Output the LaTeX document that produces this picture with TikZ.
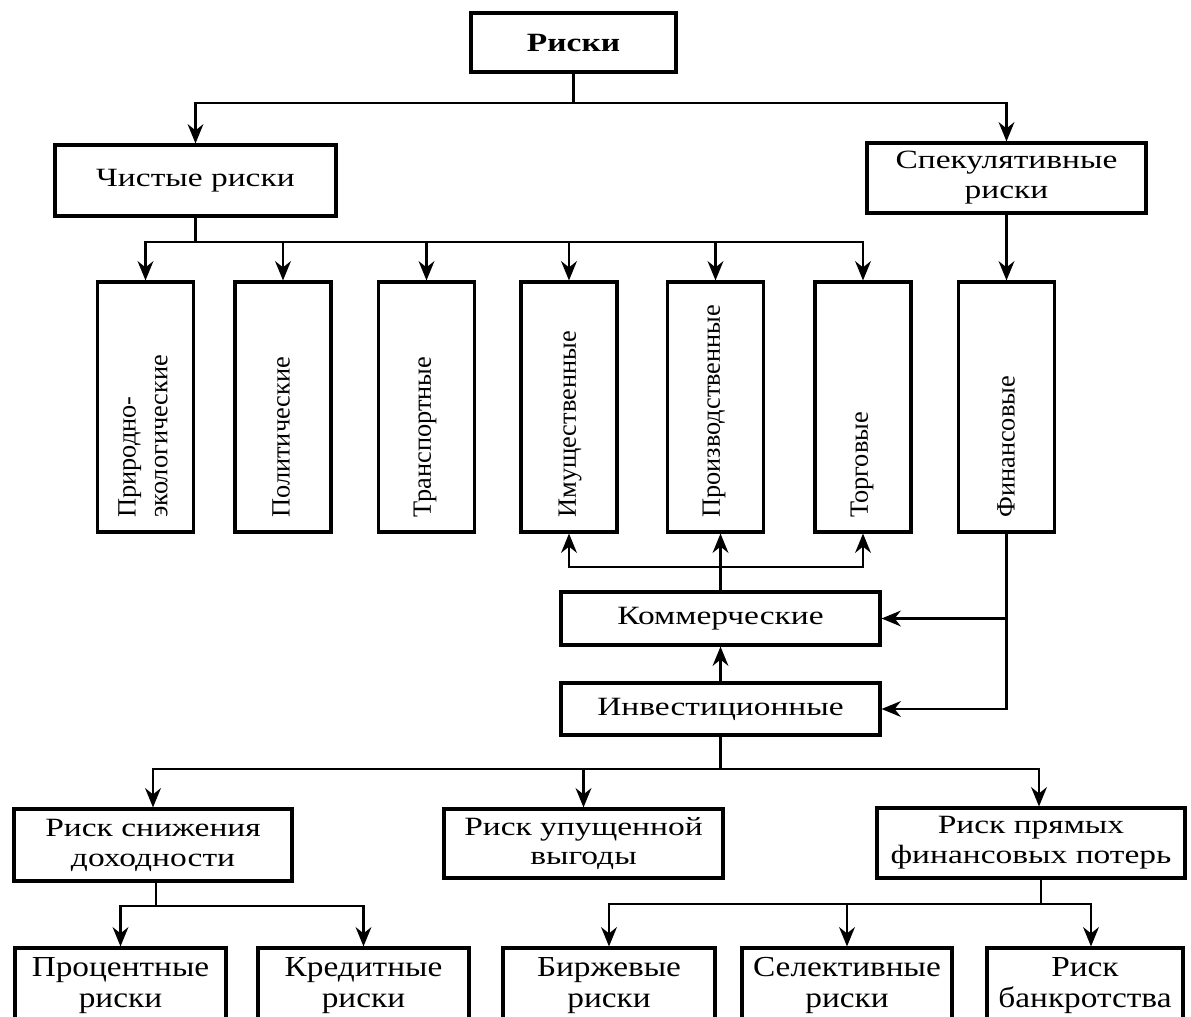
\documentclass[tikz,border=0pt]{standalone}
\usepackage{fontspec}
\setmainfont{Liberation Serif}
\newfontfamily\fa[FakeStretch=1.27]{Liberation Serif}
\newfontfamily\fb[FakeStretch=1.15]{Liberation Serif}
\usetikzlibrary{arrows.meta}
\begin{document}
\begin{tikzpicture}[x=0.02cm,y=-0.02cm,
  box/.style={draw, line width=1.8pt, inner sep=0pt, align=center},
  mid/.style={box, font=\fa\fontsize{15}{17}\selectfont},
  low/.style={box, font=\fb\fontsize{16.5}{18}\selectfont, minimum height=1.5cm},
  vbox/.style={draw, line width=1.8pt, minimum width=1.92cm, minimum height=5cm, inner sep=0pt},
  vtxt/.style={rotate=90, anchor=west, inner sep=0pt, align=left, font=\fontsize{15}{18}\selectfont},
  conn/.style={line width=1.2pt},
  arr/.style={conn, -{Stealth[length=11pt,width=9pt]}}]
\useasboundingbox (0,0) rectangle (1191,1017);
\clip (0,0) rectangle (1191,1017);

% nodes
\node[box, minimum width=4.1cm, minimum height=1.18cm, font=\fa\bfseries\fontsize{15}{17}\selectfont] (risks) at (573.5,42.5) {Риски};
\node[mid, minimum width=5.62cm, minimum height=1.42cm] (pure) at (195.5,180.5) {Чистые риски};
\node[mid, minimum width=5.58cm, minimum height=1.4cm] (spec) at (1006.5,178) {Спекулятивные\\риски};

\node[vbox] (v1) at (145.5,407) {};
\node[vbox] (v2) at (283,407) {};
\node[vbox] (v3) at (426.5,407) {};
\node[vbox] (v4) at (569,407) {};
\node[vbox] (v5) at (715.5,407) {};
\node[vbox] (v6) at (863,407) {};
\node[vbox] (v7) at (1006.5,407) {};

\node[vtxt] (t1) at (143,518) {Природно-\\экологические};
\node[vtxt] (t2) at (281,518) {Политические};
\node[vtxt] (t3) at (425,518) {Транспортные};
\node[vtxt] (t4) at (570,518) {Имущественные};
\node[vtxt] (t5) at (714,518) {Производственные};
\node[vtxt] (t6) at (862,518) {Торговые};
\node[vtxt] (t7) at (1006,518) {Финансовые};

\node[mid, minimum width=6.38cm, minimum height=1.06cm] (comm) at (720.5,618.5) {Коммерческие};
\node[mid, minimum width=6.38cm, minimum height=1.04cm] (inv) at (720.5,709) {Инвестиционные};

\node[mid, minimum width=5.56cm, minimum height=1.44cm] (r1) at (153,845) {Риск снижения\\доходности};
\node[mid, minimum width=5.58cm, minimum height=1.38cm] (r2) at (583.5,843.5) {Риск упущенной\\выгоды};
\node[mid, minimum width=6.16cm, minimum height=1.4cm] (r3) at (1031,843) {Риск прямых\\финансовых потерь};

\node[low, minimum width=4.22cm] (b1) at (120.5,985.5) {Процентные\\риски};
\node[low, minimum width=4.22cm] (b2) at (363.5,985.5) {Кредитные\\риски};
\node[low, minimum width=4.24cm] (b3) at (609,985.5) {Биржевые\\риски};
\node[low, minimum width=4.2cm] (b4) at (847,985.5) {Селективные\\риски};
\node[low, minimum width=3.92cm] (b5) at (1085,985.5) {Риск\\банкротства};

% connectors
\coordinate (bus1) at (0,103);
\draw[arr] (risks.south) -- (risks.south |- bus1) -| (pure.north);
\draw[arr] (risks.south |- bus1) -| (spec.north);

\coordinate (bus2) at (0,242);
\draw[conn] (pure.south) -- (pure.south |- bus2);
\foreach \n in {v1,v2,v3,v4,v5,v6}
  \draw[arr] (pure.south |- bus2) -| (\n.north);
\draw[arr] (spec.south) -- (v7.north);

\coordinate (bus3) at (0,567);
\draw[arr] (comm.north) -- (comm.north |- v5.south);
\draw[arr] (comm.north |- bus3) -| (v4.south);
\draw[arr] (comm.north |- bus3) -| (v6.south);
\draw[arr] (inv.north) -- (comm.south);
\draw[arr] (v7.south) -- (v7.south |- inv.east) -- (inv.east);
\draw[arr] (v7.south |- comm.east) -- (comm.east);

\coordinate (bus4) at (0,769);
\draw[conn] (inv.south) -- (inv.south |- bus4);
\draw[arr] (inv.south |- bus4) -| (r1.north);
\draw[arr] (inv.south |- bus4) -| (r2.north);
\draw[arr] (inv.south |- bus4) -| ([xshift=0.16cm]r3.north);

\coordinate (bus5) at (0,906);
\coordinate (bus6) at (0,904);
\draw[conn] ([xshift=0.06cm]r1.south) -- ([xshift=0.06cm]r1.south |- bus5);
\draw[arr] ([xshift=0.06cm]r1.south |- bus5) -| (b1.north);
\draw[arr] ([xshift=0.06cm]r1.south |- bus5) -| (b2.north);
\draw[conn] ([xshift=0.2cm]r3.south) -- ([xshift=0.2cm]r3.south |- bus6);
\draw[arr] ([xshift=0.2cm]r3.south |- bus6) -| (b3.north);
\draw[arr] ([xshift=0.2cm]r3.south |- bus6) -| (b4.north);
\draw[arr] ([xshift=0.2cm]r3.south |- bus6) -| ([xshift=0.12cm]b5.north);
\end{tikzpicture}
\end{document}
